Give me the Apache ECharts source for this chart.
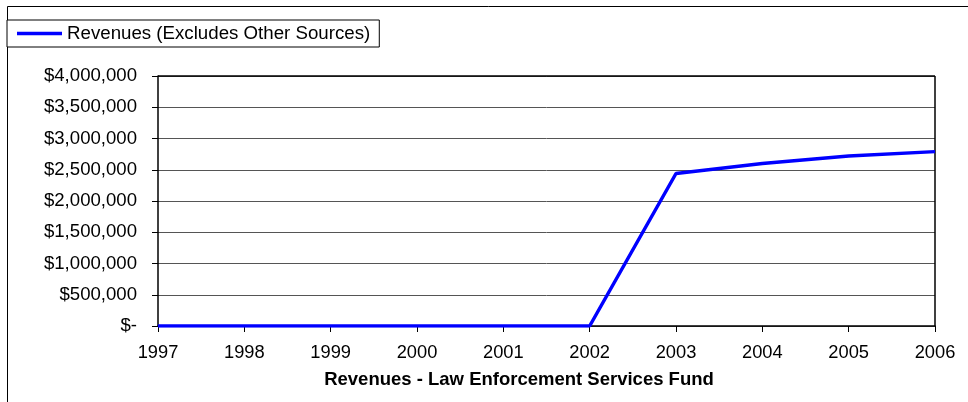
<!DOCTYPE html>
<html>
<head>
<meta charset="utf-8">
<script src="https://cdn.jsdelivr.net/npm/echarts@6/dist/echarts.min.js"></script>
<style>
  html, body { margin: 0; padding: 0; background: #fff; }
  #chart { width: 968px; height: 402px; }
</style>
</head>
<body>
<div id="chart"></div>
<script>
// Fiscal years shown on the category axis
const years = ['1997', '1998', '1999', '2000', '2001', '2002', '2003', '2004', '2005', '2006'];
// Revenues (excludes other sources), in dollars
const revenues = [0, 0, 0, 0, 0, 0, 2440000, 2600000, 2720000, 2790000];
const seriesName = 'Revenues (Excludes Other Sources)';
const chartTitle = 'Revenues - Law Enforcement Services Fund';

const FONT = '"Liberation Sans", Arial, sans-serif';

function money(v) {
  if (v === 0) return '$-';
  return '$' + v.toString().replace(/\B(?=(\d{3})+(?!\d))/g, ',');
}

const chart = echarts.init(document.getElementById('chart'), null, { renderer: 'canvas' });

chart.setOption({
  animation: false,
  backgroundColor: '#fff',
  textStyle: { fontFamily: FONT },
  graphic: [
    {
      type: 'rect',
      shape: { x: 7.5, y: 6.5, width: 1000, height: 1000 },
      style: { fill: 'none', stroke: '#000', lineWidth: 1 },
      silent: true,
      z: 0
    },
    {
      type: 'text',
      x: 519, y: 380,
      style: {
        text: chartTitle,
        textAlign: 'center',
        textVerticalAlign: 'middle',
        font: 'bold 18.5px ' + FONT,
        fill: '#000'
      }
    }
  ],
  legend: {
    left: 7, top: 20,
    orient: 'horizontal',
    padding: [4, 9, 4, 10],
    backgroundColor: '#fff',
    borderColor: '#000',
    borderWidth: 1,
    icon: 'rect',
    itemWidth: 45,
    itemHeight: 3.5,
    textStyle: { fontSize: 18.7, color: '#000', fontFamily: FONT },
    data: [seriesName]
  },
  grid: { left: 158, right: 33, top: 76, bottom: 76, containLabel: false },
  xAxis: {
    type: 'category',
    data: years,
    boundaryGap: false,
    axisLine: { show: true, lineStyle: { color: '#000', width: 1.5 } },
    axisTick: { show: true, length: 6, lineStyle: { color: '#000', width: 1 }, alignWithLabel: true },
    axisLabel: { fontSize: 18.3, color: '#000', margin: 18, fontFamily: FONT },
    splitLine: { show: false }
  },
  yAxis: {
    type: 'value',
    min: 0, max: 4000000, interval: 500000,
    axisLine: { show: true, lineStyle: { color: '#000', width: 1.5 } },
    axisTick: { show: true, length: 6, lineStyle: { color: '#000', width: 1 } },
    axisLabel: { fontSize: 18.6, color: '#000', margin: 21, fontFamily: FONT, formatter: money },
    splitLine: { show: true, lineStyle: { color: '#555', width: 1 } }
  },
  series: [
    {
      name: seriesName,
      type: 'line',
      data: revenues,
      symbol: 'none',
      color: '#0000ff',
      lineStyle: { color: '#0000ff', width: 3.5 },
      z: 5
    },
    {
      // plot-area frame along the top and right edges
      type: 'line',
      data: [],
      markLine: {
        silent: true, symbol: 'none', label: { show: false },
        lineStyle: { color: '#000', width: 1.5, type: 'solid' },
        data: [
          [{ coord: ['1997', 4000000] }, { coord: ['2006', 4000000] }],
          [{ coord: ['2006', 0] }, { coord: ['2006', 4000000] }]
        ]
      }
    }
  ]
});
</script>
</body>
</html>
